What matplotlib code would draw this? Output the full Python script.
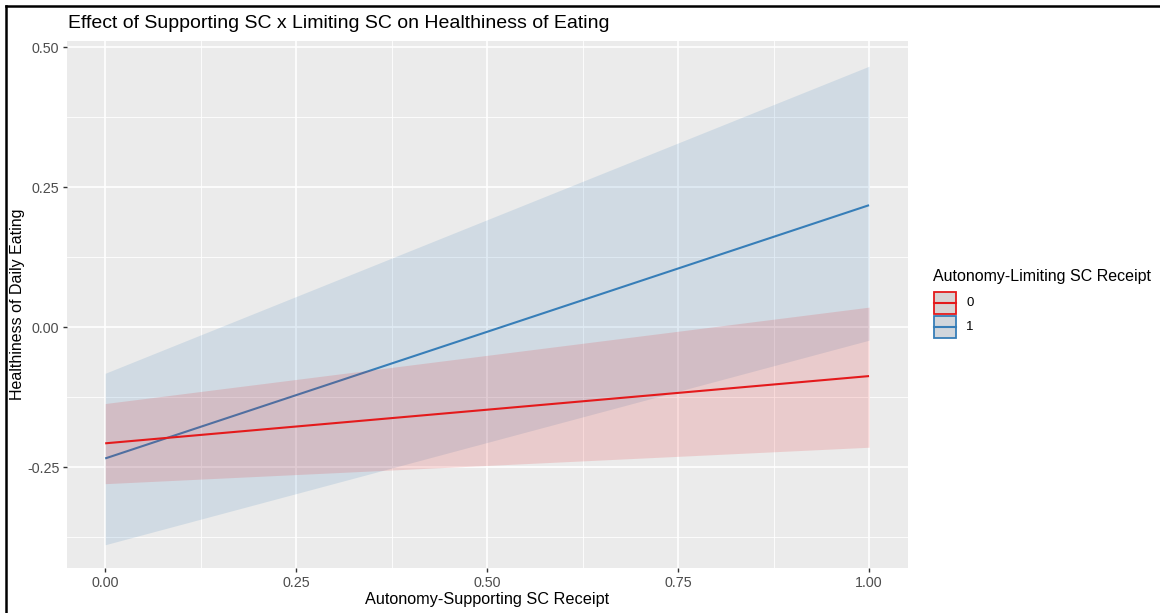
import matplotlib
matplotlib.use("Agg")
import matplotlib.pyplot as plt
from matplotlib.lines import Line2D
from matplotlib.patches import Rectangle
import numpy as np

# ---- data ----
x_vals = [0.0, 1.0]
groups = ["0", "1"]
fit_0 = [-0.207, -0.087]
lower_0 = [-0.279, -0.214]
upper_0 = [-0.136, 0.036]
fit_1 = [-0.234, 0.218]
lower_1 = [-0.388, -0.023]
upper_1 = [-0.082, 0.466]
x_ticks = [0.00, 0.25, 0.50, 0.75, 1.00]
x_tick_labels = ["0.00", "0.25", "0.50", "0.75", "1.00"]
y_ticks = [-0.25, 0.00, 0.25, 0.50]
y_tick_labels = ["-0.25", "0.00", "0.25", "0.50"]

title = "Effect of Supporting SC x Limiting SC on Healthiness of Eating"
x_label = "Autonomy-Supporting SC Receipt"
y_label = "Healthiness of Daily Eating"
legend_title = "Autonomy-Limiting SC Receipt"

RED = "#E41A1C"
BLUE = "#377EB8"
colors = [RED, BLUE]

plt.rcParams['font.family'] = ['Liberation Sans', 'DejaVu Sans']

W, H = 1160, 613
fig = plt.figure(figsize=(W / 100, H / 100), dpi=100)
ax = fig.add_axes([67 / W, 1 - 568 / H, (908 - 67) / W, (568 - 41) / H])
ax.set_facecolor("#EBEBEB")

# layers: blue ribbon, blue line, red ribbon, red line
ax.fill_between(x_vals, lower_1, upper_1, color=BLUE, alpha=0.15, lw=0, zorder=2)
ax.plot(x_vals, fit_1, color=BLUE, lw=1.5, zorder=3, solid_capstyle='butt')
ax.fill_between(x_vals, lower_0, upper_0, color=RED, alpha=0.15, lw=0, zorder=4)
ax.plot(x_vals, fit_0, color=RED, lw=1.5, zorder=5, solid_capstyle='butt')

ax.set_xlim(-0.05, 1.051)
ax.set_ylim(-0.4295, 0.511)

ax.set_xticks(x_ticks)
ax.set_xticklabels(x_tick_labels)
ax.set_yticks(y_ticks)
ax.set_yticklabels(y_tick_labels)
ax.set_xticks([0.125, 0.375, 0.625, 0.875], minor=True)
ax.set_yticks([-0.375, -0.125, 0.125, 0.375], minor=True)
ax.grid(which='major', color='white', lw=1.2, zorder=0)
ax.grid(which='minor', color='white', lw=0.6, zorder=0)
ax.set_axisbelow(True)
for s in ax.spines.values():
    s.set_visible(False)
ax.tick_params(which='major', length=3, width=1, color='#333333',
               labelsize=10.3, labelcolor='#4D4D4D', pad=2.5)
ax.tick_params(which='minor', length=0)

ax.set_xlabel(x_label, fontsize=11.7, color='black', labelpad=2)
ax.set_ylabel(y_label, fontsize=11.5, color='black', rotation=90,
              ha='center', va='center')
ax.yaxis.set_label_coords((18 - 67) / (908 - 67), 0.5)

fig.text(68 / W, 1 - 23 / H, title, fontsize=14, ha='left', va='center', color='black')

# legend drawn in figure pixel coordinates
def fy(py):
    return 1 - py / H

fig.text(933 / W, fy(277), legend_title, fontsize=11.5, ha='left', va='center')
key_fills = ['#D8D3D4', '#D1D6DC']
key_tops = [292, 316]
for g, c, kf, top in zip(groups, colors, key_fills, key_tops):
    fig.add_artist(Rectangle((934 / W, fy(top + 22)), 22 / W, 22 / H,
                             transform=fig.transFigure, facecolor=kf,
                             edgecolor=c, lw=1.3))
    fig.add_artist(Line2D([934 / W, 956 / W], [fy(top + 11), fy(top + 11)],
                          transform=fig.transFigure, color=c, lw=1.5))
    fig.text(966 / W, fy(top + 11), g, fontsize=9.5, ha='left', va='center')

# figure border (top and left visible)
fig.add_artist(Line2D([6 / W, 1], [1 - 6 / H, 1 - 6 / H], transform=fig.transFigure,
                      color='black', lw=1.8))
fig.add_artist(Line2D([6 / W, 6 / W], [0, 1 - 6 / H], transform=fig.transFigure,
                      color='black', lw=1.8))

fig.savefig("out.png", dpi=100)
